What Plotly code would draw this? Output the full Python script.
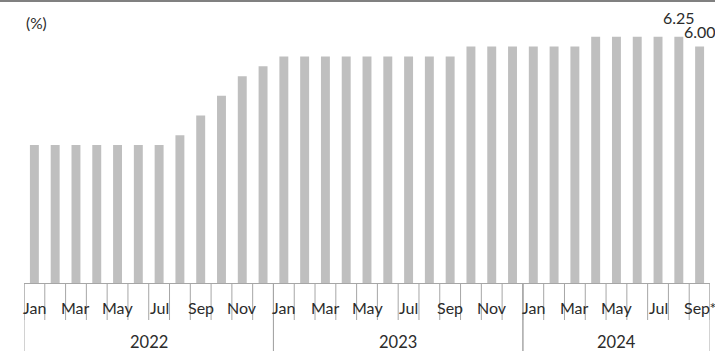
import plotly.graph_objects as go

# ---- data ----
month_names = ["Jan", "Feb", "Mar", "Apr", "May", "Jun", "Jul", "Aug", "Sep", "Oct", "Nov", "Dec"]
years = ["2022", "2023", "2024"]
months_per_year = [12, 12, 9]
rates = [3.50, 3.50, 3.50, 3.50, 3.50, 3.50, 3.50, 3.75, 4.25, 4.75, 5.25, 5.50,
         5.75, 5.75, 5.75, 5.75, 5.75, 5.75, 5.75, 5.75, 5.75, 6.00, 6.00, 6.00,
         6.00, 6.00, 6.00, 6.25, 6.25, 6.25, 6.25, 6.25, 6.00]
last_label_suffix = "*"
value_labels = ["6.25", "6.00"]  # labels for the last two bars

# ---- build ----
cats = []
for y, n in zip(years, months_per_year):
    for m in month_names[:n]:
        cats.append((y, m))
xs = list(range(len(rates)))

TEXT = "#2b2b2b"
GRID = "#A6A6A6"
FONT = "Lato"

fig = go.Figure(go.Bar(x=xs, y=rates, marker=dict(color="#BFBFBF", line=dict(width=0)),
                       hoverinfo="skip"))

ann = []
shapes = []
n = len(rates)
# month labels (every other month)
for i, (y, m) in enumerate(cats):
    if month_names.index(m) % 2 == 0:
        txt = m + (last_label_suffix if i == n - 1 else "")
        ann.append(dict(x=i, y=0, xref="x", yref="paper", text=txt, showarrow=False,
                        xanchor="center", yanchor="middle", yshift=-24,
                        font=dict(family=FONT, size=16, color=TEXT)))
# month boundary ticks
for i in range(n + 1):
    shapes.append(dict(type="line", xref="x", yref="paper", x0=i - 0.5, x1=i - 0.5,
                       y0=0, y1=-37 / 283, line=dict(color=GRID, width=1)))
# year groups
start = 0
for y, cnt in zip(years, months_per_year):
    end = start + cnt - 1
    ann.append(dict(x=(start + end) / 2, y=0, xref="x", yref="paper", text=y, showarrow=False,
                    xanchor="center", yanchor="middle", yshift=-59,
                    font=dict(family=FONT, size=16.5, color=TEXT)))
    for b in (start - 0.5, end + 0.5):
        shapes.append(dict(type="line", xref="x", yref="paper", x0=b, x1=b,
                           y0=0, y1=-68 / 283, line=dict(color=GRID, width=1)))
    start += cnt

# value labels on last two bars
shifts = [19, 15]
for k, lab in enumerate(value_labels):
    i = n - len(value_labels) + k
    ann.append(dict(x=i, y=rates[i], xref="x", yref="y", text=lab, showarrow=False,
                    xanchor="center", yanchor="middle", yshift=shifts[k],
                    font=dict(family=FONT, size=16, color=TEXT)))

# unit label
ann.append(dict(x=0, y=1, xref="paper", yref="paper", text="(%)", showarrow=False,
                xanchor="left", yanchor="middle", xshift=0, yshift=-23,
                font=dict(family=FONT, size=15.5, color=TEXT)))

# top border
shapes.append(dict(type="line", xref="paper", yref="paper", x0=-0.1, x1=1.1, y0=1, y1=1,
                   line=dict(color="#808080", width=4)))

fig.update_layout(
    width=715, height=351,
    margin=dict(l=24, r=5, t=0, b=68),
    paper_bgcolor="white", plot_bgcolor="white",
    bargap=0.57,
    showlegend=False,
    xaxis=dict(range=[-0.5, n - 0.5], showticklabels=False, ticks="", showgrid=False,
               zeroline=False, showline=True, linecolor=GRID, linewidth=1),
    yaxis=dict(range=[0, 283 / 39.4], visible=False, showgrid=False, zeroline=False),
    annotations=ann, shapes=shapes,
)

fig.write_html("out.html")
